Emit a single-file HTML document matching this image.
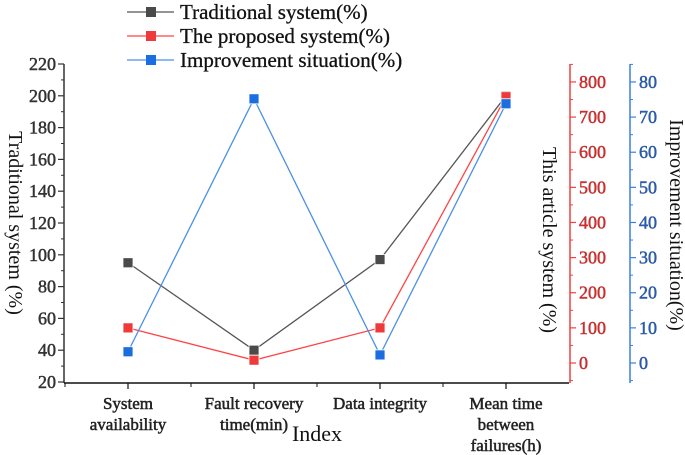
<!DOCTYPE html>
<html><head><meta charset="utf-8"><style>
html,body{margin:0;padding:0;background:#fff;}
svg{display:block;}
svg text{font-family:"Liberation Serif","DejaVu Serif",serif;}
</style></head><body>
<svg id="chart" width="685" height="455" viewBox="0 0 685 455">
<g id="axes"></g><g id="series"></g><g id="legend"></g>
</svg>
<script>
const categories = ["System|availability","Fault recovery|time(min)","Data integrity","Mean time|between|failures(h)"];
const traditional = [95, 40, 97, 200];
const proposed = [100, 8, 100, 758];
const improvement = [3.2, 75.2, 2.3, 73.8];
const leftTicks = [20,40,60,80,100,120,140,160,180,200,220];
const redTicks = [0,100,200,300,400,500,600,700,800];
const blueTicks = [0,10,20,30,40,50,60,70,80];

const NS="http://www.w3.org/2000/svg";
function mk(tag,attrs,parent,text){const e=document.createElementNS(NS,tag);for(const k in attrs)e.setAttribute(k,attrs[k]);if(text!==undefined)e.textContent=text;parent.appendChild(e);return e;}
const axes=document.getElementById('axes'),ser=document.getElementById('series'),leg=document.getElementById('legend');
const X0=64,X1=569,YB=383,YT=64;
const xPos=i=>128+i*126;
const yL=v=>382-(v-20)*1.59;
const yR=v=>363-v*0.3513;
const yB=v=>363-v*3.513;
function boldText(attrs,parent,txt,color){
  attrs.fill=color;attrs.stroke=color;attrs['stroke-width']=0.5;
  return mk('text',attrs,parent,txt);
}

let e=mk('line',{x1:X0,y1:YT,x2:X0,y2:YB,stroke:'#333','stroke-width':1.5},axes);

leftTicks.forEach(t=>{
  mk('line',{x1:X0-6,y1:yL(t),x2:X0,y2:yL(t),stroke:'#333','stroke-width':1.2},axes);
  if(t<220)mk('line',{x1:X0-3,y1:yL(t+10),x2:X0,y2:yL(t+10),stroke:'#333','stroke-width':1},axes);
  const l=boldText({x:X0-8,y:yL(t)+6,'text-anchor':'end','font-size':18},axes,t,'#333');
  
});
e=mk('text',{transform:'translate(9,223) rotate(90)','text-anchor':'middle','font-size':20,fill:'#111'},axes,'Traditional system (%)');


e=mk('line',{x1:X0,y1:YB,x2:X1,y2:YB,stroke:'#111','stroke-width':1.5},axes);

for(let i=0;i<4;i++){
  mk('line',{x1:xPos(i),y1:YB,x2:xPos(i),y2:YB+6,stroke:'#111','stroke-width':1.2},axes);
  mk('line',{x1:xPos(i)-63,y1:YB,x2:xPos(i)-63,y2:YB+4,stroke:'#111','stroke-width':1},axes);
  categories[i].split('|').forEach((s,j)=>{
    const t=boldText({x:xPos(i),y:409+j*21,'text-anchor':'middle','font-size':17},axes,s,'#222');
    
  });
}
e=mk('text',{x:317,y:441,'text-anchor':'middle','font-size':22,fill:'#111'},axes,'Index');


const RX=570;
e=mk('line',{x1:RX,y1:YT,x2:RX,y2:YB,stroke:'#f04040','stroke-width':1.5},axes);

redTicks.forEach(t=>{
  mk('line',{x1:RX,y1:yR(t),x2:RX+6,y2:yR(t),stroke:'#f04040','stroke-width':1.2},axes);
  mk('line',{x1:RX,y1:yR(t+50),x2:RX+3,y2:yR(t+50),stroke:'#f04040','stroke-width':1},axes);
  const l=boldText({x:RX+9,y:yR(t)+6,'font-size':18},axes,t,'#c83030');
  
});
mk('line',{x1:RX,y1:yR(-50),x2:RX+3,y2:yR(-50),stroke:'#f04040','stroke-width':1},axes);
e=mk('text',{transform:'translate(543,240) rotate(90)','text-anchor':'middle','font-size':20,fill:'#111'},axes,'This article system (%)');


const BX=630;
e=mk('line',{x1:BX,y1:YT,x2:BX,y2:YB,stroke:'#3a80e0','stroke-width':1.5},axes);

blueTicks.forEach(t=>{
  mk('line',{x1:BX,y1:yB(t),x2:BX+6,y2:yB(t),stroke:'#3a80e0','stroke-width':1.2},axes);
  mk('line',{x1:BX,y1:yB(t+5),x2:BX+3,y2:yB(t+5),stroke:'#3a80e0','stroke-width':1},axes);
  const l=boldText({x:BX+9,y:yB(t)+6,'font-size':18},axes,t,'#2a5aa8');
  
});
mk('line',{x1:BX,y1:yB(-5),x2:BX+3,y2:yB(-5),stroke:'#3a80e0','stroke-width':1},axes);
e=mk('text',{transform:'translate(670,225) rotate(90)','text-anchor':'middle','font-size':20,fill:'#111'},axes,'Improvement situation(%)');


function drawSeries(vals,yf,line,mark,name){
  const pts=vals.map((v,i)=>xPos(i)+','+yf(v)).join(' ');
  const p=mk('polyline',{points:pts,fill:'none',stroke:line,'stroke-width':1.3},ser);
  
  vals.forEach((v,i)=>{
    const r=mk('rect',{x:xPos(i)-5,y:yf(v)-5,width:10,height:10,fill:mark,stroke:'#fff','stroke-width':0.8},ser);
    
  });
}
drawSeries(traditional,yL,'#555','#4a4a4a','traditional');
drawSeries(proposed,yR,'#f44','#ee3a3a','proposed');
drawSeries(improvement,yB,'#4a90e8','#1a6ee0','improvement');

const legItems=[['Traditional system(%)','#555','#4a4a4a'],['The proposed system(%)','#f44','#ee3a3a'],['Improvement situation(%)','#4a90e8','#1a6ee0']];
legItems.forEach((it,i)=>{
  const y=12+i*24;
  const g=mk('g',{},leg);
  
  mk('line',{x1:127,y1:y,x2:174,y2:y,stroke:it[1],'stroke-width':1.3},g);
  mk('rect',{x:146,y:y-5,width:10,height:10,fill:it[2]},g);
  mk('text',{x:180,y:y+7,'font-size':21,fill:'#111',stroke:'#111','stroke-width':0.3},g,it[0]);
});
</script>
</body></html>
